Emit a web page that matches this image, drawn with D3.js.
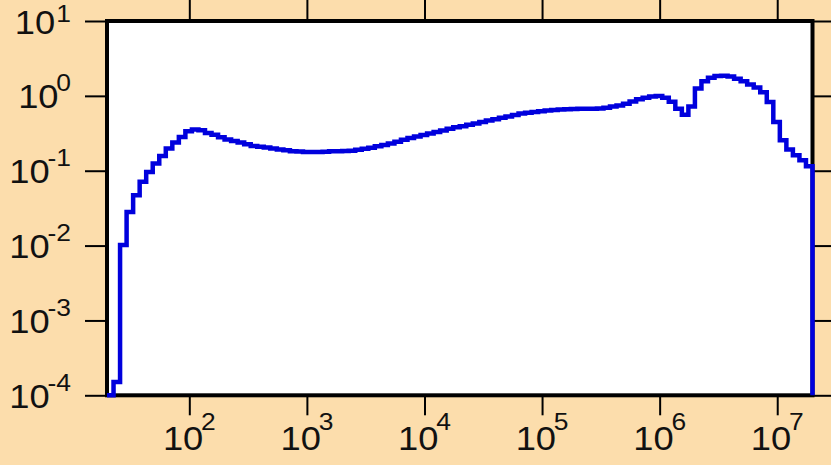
<!DOCTYPE html>
<html>
<head>
<meta charset="utf-8">
<script src="https://cdn.jsdelivr.net/npm/d3@7"></script>
<style>
  body { margin: 0; background: #fcddac; }
  svg { display: block; }
  .tickLabel { font-family: "Liberation Sans", Arial, sans-serif; fill: #111; }
  .axis line { stroke: #000; stroke-width: 2; }
</style>
</head>
<body>
<div id="chart"></div>
<script>
// histogram bin values, 18 log-spaced bins per decade starting at 10^1.3
var binsPerDecade = 18;
var binStartExp = 1.3;
var binValues = [
  0, 1.5e-4, 0.0102, 0.028, 0.047, 0.071, 0.096, 0.125, 0.157, 0.198,
  0.238, 0.282, 0.336, 0.354, 0.347, 0.319, 0.302, 0.280, 0.262, 0.249,
  0.238, 0.226, 0.214, 0.209, 0.204, 0.198, 0.192, 0.187, 0.182, 0.180,
  0.178, 0.178, 0.178, 0.179, 0.182, 0.182, 0.183, 0.185, 0.191, 0.197,
  0.203, 0.212, 0.220, 0.231, 0.244, 0.259, 0.273, 0.286, 0.299, 0.313,
  0.328, 0.345, 0.363, 0.380, 0.394, 0.412, 0.426, 0.446, 0.467, 0.486,
  0.509, 0.530, 0.556, 0.581, 0.596, 0.608, 0.621, 0.635, 0.645, 0.655,
  0.663, 0.669, 0.671, 0.671, 0.673, 0.677, 0.692, 0.720, 0.743, 0.782,
  0.839, 0.898, 0.946, 0.979, 0.993, 0.940, 0.832, 0.675, 0.561, 0.720,
  1.25, 1.57, 1.75, 1.84, 1.86, 1.82, 1.69, 1.57, 1.42, 1.29,
  1.12, 0.826, 0.447, 0.255, 0.192, 0.161, 0.138, 0.115
];

// tick values and their exponent labels
var xTicks = [1e2, 1e3, 1e4, 1e5, 1e6, 1e7];
var xTickExps = ["2", "3", "4", "5", "6", "7"];
var yTicks = [1e1, 1e0, 1e-1, 1e-2, 1e-3, 1e-4];
var yTickExps = ["1", "0", "-1", "-2", "-3", "-4"];

var svgWidth = 831;
var svgHeight = 465;

var margin = { top: 21, right: 18.5, bottom: 69.7, left: 107 };
var width = svgWidth - margin.left - margin.right;
var height = svgHeight - margin.top - margin.bottom;

var svg = d3.select("#chart").append("svg")
    .attr("width", svgWidth)
    .attr("height", svgHeight);

var chartGroup = svg.append("g")
    .attr("transform", `translate(${margin.left}, ${margin.top})`);

// scales
var xScale = d3.scaleLog()
    .domain([Math.pow(10, binStartExp), Math.pow(10, binStartExp + binValues.length / binsPerDecade)])
    .range([0, width]);

var yScale = d3.scaleLog()
    .domain([1e-4, 1e1])
    .range([height, 0])
    .clamp(true);

// plot frame
chartGroup.append("rect")
    .attr("x", 0)
    .attr("y", 0)
    .attr("width", width)
    .attr("height", height)
    .attr("fill", "#fff")
    .attr("stroke", "#000")
    .attr("stroke-width", 4);

// ticks on all four sides
function addAxis(axis, transform) {
    var g = chartGroup.append("g")
        .attr("class", "axis")
        .attr("transform", transform)
        .call(axis);
    g.select(".domain").remove();
    g.selectAll("text").remove();
    return g;
}

addAxis(d3.axisBottom(xScale).tickValues(xTicks).tickSize(20).tickSizeOuter(0), `translate(0, ${height})`);
addAxis(d3.axisTop(xScale).tickValues(xTicks).tickSize(21).tickSizeOuter(0), "translate(0, 0)");
addAxis(d3.axisLeft(yScale).tickValues(yTicks).tickSize(22).tickSizeOuter(0), "translate(0, 0)");
addAxis(d3.axisRight(yScale).tickValues(yTicks).tickSize(20).tickSizeOuter(0), `translate(${width}, 0)`);

// step histogram line
var edges = d3.range(binValues.length + 1).map(i => Math.pow(10, binStartExp + i / binsPerDecade));
var floorVal = 1e-4;
var stepPoints = [[edges[0], floorVal]];
binValues.forEach((v, i) => {
    var val = Math.max(v, floorVal);
    stepPoints.push([edges[i], val]);
    stepPoints.push([edges[i + 1], val]);
});
stepPoints.push([edges[edges.length - 1], floorVal]);

var line = d3.line()
    .x(d => xScale(d[0]))
    .y(d => yScale(d[1]));

chartGroup.append("path")
    .datum(stepPoints)
    .attr("d", line)
    .attr("fill", "none")
    .attr("stroke", "#0000dd")
    .attr("stroke-width", 4.5)
    .attr("stroke-linejoin", "miter");

// tick labels "10" with superscript exponent
function powerLabel(sel, exp, raise) {
    sel.append("tspan").text("10");
    sel.append("tspan")
        .attr("dy", -raise)
        .attr("dx", raise < 15 ? 1 : -2)
        .style("font-size", "24px")
        .text(exp);
}

xTicks.forEach((t, i) => {
    var lbl = chartGroup.append("text")
        .attr("class", "tickLabel")
        .attr("text-anchor", "middle")
        .style("font-size", "33px")
        .attr("transform", `translate(${xScale(t)}, ${height + 55}) scale(1.1, 1)`);
    powerLabel(lbl, xTickExps[i], 20);
});

yTicks.forEach((t, i) => {
    var baseY = yScale(t) + 12.5;
    // keep the top superscript inside the picture
    var supBase = Math.max(yScale(t) - 4.5, 22 - margin.top);
    var lbl = chartGroup.append("text")
        .attr("class", "tickLabel")
        .attr("text-anchor", "end")
        .style("font-size", "33px")
        .attr("transform", `translate(${71 - margin.left}, ${baseY}) scale(1.1, 1)`);
    powerLabel(lbl, yTickExps[i], baseY - supBase);
});
</script>
</body>
</html>
